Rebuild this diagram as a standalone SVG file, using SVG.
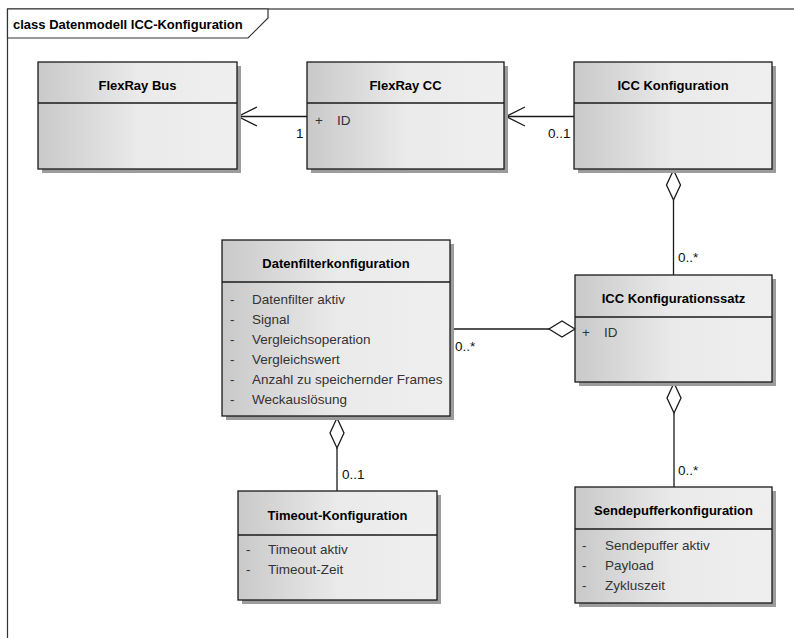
<svg xmlns="http://www.w3.org/2000/svg" width="794" height="638" viewBox="0 0 794 638">
<defs>
<linearGradient id="nodeFill" x1="0" y1="0" x2="1" y2="0">
<stop offset="0" stop-color="#c9c9c9"/>
<stop offset="0.5" stop-color="#eaeaea"/>
<stop offset="1" stop-color="#efefef"/>
</linearGradient>
<marker id="openArrow" viewBox="0 0 22 22" refX="20.5" refY="11" markerWidth="22" markerHeight="22" markerUnits="userSpaceOnUse" orient="auto">
<path d="M1.5,1.5 L20.5,11 L1.5,20.5" fill="none" stroke="#1a1a1a" stroke-width="1.3"/>
</marker>
</defs>
<style>
.frame{fill:#ffffff;stroke:#333333;stroke-width:1.2}
.tab{fill:#ffffff;stroke:#333333;stroke-width:1.2}
.shadow{fill:#9c9c9c}
.box{fill:url(#nodeFill);stroke:#1a1a1a;stroke-width:1.3}
.div{stroke:#1a1a1a;stroke-width:1.3}
.title{font-family:"Liberation Sans",Arial,sans-serif;font-weight:bold;font-size:13px;fill:#000000;text-anchor:middle}
.frametitle{font-family:"Liberation Sans",Arial,sans-serif;font-weight:bold;font-size:13px;fill:#000000}
.attr{font-family:"Liberation Sans",Arial,sans-serif;font-size:13.5px;fill:#333333}
.mult{font-family:"Liberation Sans",Arial,sans-serif;font-size:13.5px;fill:#111111}
.edge{fill:none;stroke:#1a1a1a;stroke-width:1.3}
.dia{fill:#ffffff;stroke:#1a1a1a;stroke-width:1.3}
</style>
<rect x="0" y="0" width="794" height="638" fill="#ffffff"/>
<g id="frame">
<rect class="frame" x="7.5" y="9" width="800" height="640"/>
<path class="tab" d="M7.5,9 H268 V18 L248,38 H7.5 Z"/>
<text class="frametitle" x="13" y="29">class Datenmodell ICC-Konfiguration</text>
</g>
<g id="connectors">
<line class="edge" x1="307" y1="116.5" x2="238" y2="116.5" marker-end="url(#openArrow)"/>
<line class="edge" x1="574" y1="116.5" x2="506" y2="116.5" marker-end="url(#openArrow)"/>
<line class="edge" x1="673.5" y1="200" x2="673.5" y2="275"/>
<path class="dia" d="M673.5,170 L680.5,185 L673.5,200 L666.5,185 Z"/>
<line class="edge" x1="450" y1="329" x2="549" y2="329"/>
<path class="dia" d="M575,329 L562,321 L549,329 L562,337 Z"/>
<line class="edge" x1="337" y1="448" x2="337" y2="491"/>
<path class="dia" d="M337,418 L344,433 L337,448 L330,433 Z"/>
<line class="edge" x1="674" y1="413" x2="674" y2="487"/>
<path class="dia" d="M674,383 L681,398 L674,413 L667,398 Z"/>
<text class="mult" x="296" y="138">1</text>
<text class="mult" x="548" y="138">0..1</text>
<text class="mult" x="678" y="262">0..*</text>
<text class="mult" x="455" y="351">0..*</text>
<text class="mult" x="342" y="479">0..1</text>
<text class="mult" x="678" y="475">0..*</text>
</g>
<g id="flexray-bus">
<rect class="shadow" x="42" y="66" width="199" height="107"/>
<rect class="box" x="38" y="62" width="199" height="107"/>
<line class="div" x1="38" y1="103" x2="237" y2="103"/>
<text class="title" x="137.5" y="90">FlexRay Bus</text>
</g>
<g id="flexray-cc">
<rect class="shadow" x="311" y="66" width="197" height="107"/>
<rect class="box" x="307" y="62" width="197" height="107"/>
<line class="div" x1="307" y1="103" x2="504" y2="103"/>
<text class="title" x="405.5" y="90">FlexRay CC</text>
<text class="attr" x="315" y="125">+</text>
<text class="attr" x="337" y="125">ID</text>
</g>
<g id="icc-konfiguration">
<rect class="shadow" x="578" y="66" width="198" height="107"/>
<rect class="box" x="574" y="62" width="198" height="107"/>
<line class="div" x1="574" y1="103" x2="772" y2="103"/>
<text class="title" x="673" y="90">ICC Konfiguration</text>
</g>
<g id="datenfilterkonfiguration">
<rect class="shadow" x="226" y="244" width="228" height="176"/>
<rect class="box" x="222" y="240" width="228" height="176"/>
<line class="div" x1="222" y1="282" x2="450" y2="282"/>
<text class="title" x="336" y="268">Datenfilterkonfiguration</text>
<text class="attr" x="230" y="304">-</text><text class="attr" x="252" y="304">Datenfilter aktiv</text>
<text class="attr" x="230" y="324">-</text><text class="attr" x="252" y="324">Signal</text>
<text class="attr" x="230" y="344">-</text><text class="attr" x="252" y="344">Vergleichsoperation</text>
<text class="attr" x="230" y="364">-</text><text class="attr" x="252" y="364">Vergleichswert</text>
<text class="attr" x="230" y="384">-</text><text class="attr" x="252" y="384">Anzahl zu speichernder Frames</text>
<text class="attr" x="230" y="404">-</text><text class="attr" x="252" y="404">Weckauslösung</text>
</g>
<g id="icc-konfigurationssatz">
<rect class="shadow" x="579" y="279" width="197" height="107"/>
<rect class="box" x="575" y="275" width="197" height="107"/>
<line class="div" x1="575" y1="317" x2="772" y2="317"/>
<text class="title" x="673.5" y="303">ICC Konfigurationssatz</text>
<text class="attr" x="582" y="337">+</text>
<text class="attr" x="604" y="337">ID</text>
</g>
<g id="timeout-konfiguration">
<rect class="shadow" x="242" y="495" width="199" height="109"/>
<rect class="box" x="238" y="491" width="199" height="109"/>
<line class="div" x1="238" y1="535" x2="437" y2="535"/>
<text class="title" x="337.5" y="520">Timeout-Konfiguration</text>
<text class="attr" x="246" y="554">-</text><text class="attr" x="268" y="554">Timeout aktiv</text>
<text class="attr" x="246" y="574">-</text><text class="attr" x="268" y="574">Timeout-Zeit</text>
</g>
<g id="sendepufferkonfiguration">
<rect class="shadow" x="579" y="491" width="197" height="116"/>
<rect class="box" x="575" y="487" width="197" height="116"/>
<line class="div" x1="575" y1="529" x2="772" y2="529"/>
<text class="title" x="673.5" y="515">Sendepufferkonfiguration</text>
<text class="attr" x="582" y="550">-</text><text class="attr" x="605" y="550">Sendepuffer aktiv</text>
<text class="attr" x="582" y="570">-</text><text class="attr" x="605" y="570">Payload</text>
<text class="attr" x="582" y="590">-</text><text class="attr" x="605" y="590">Zykluszeit</text>
</g>
</svg>
